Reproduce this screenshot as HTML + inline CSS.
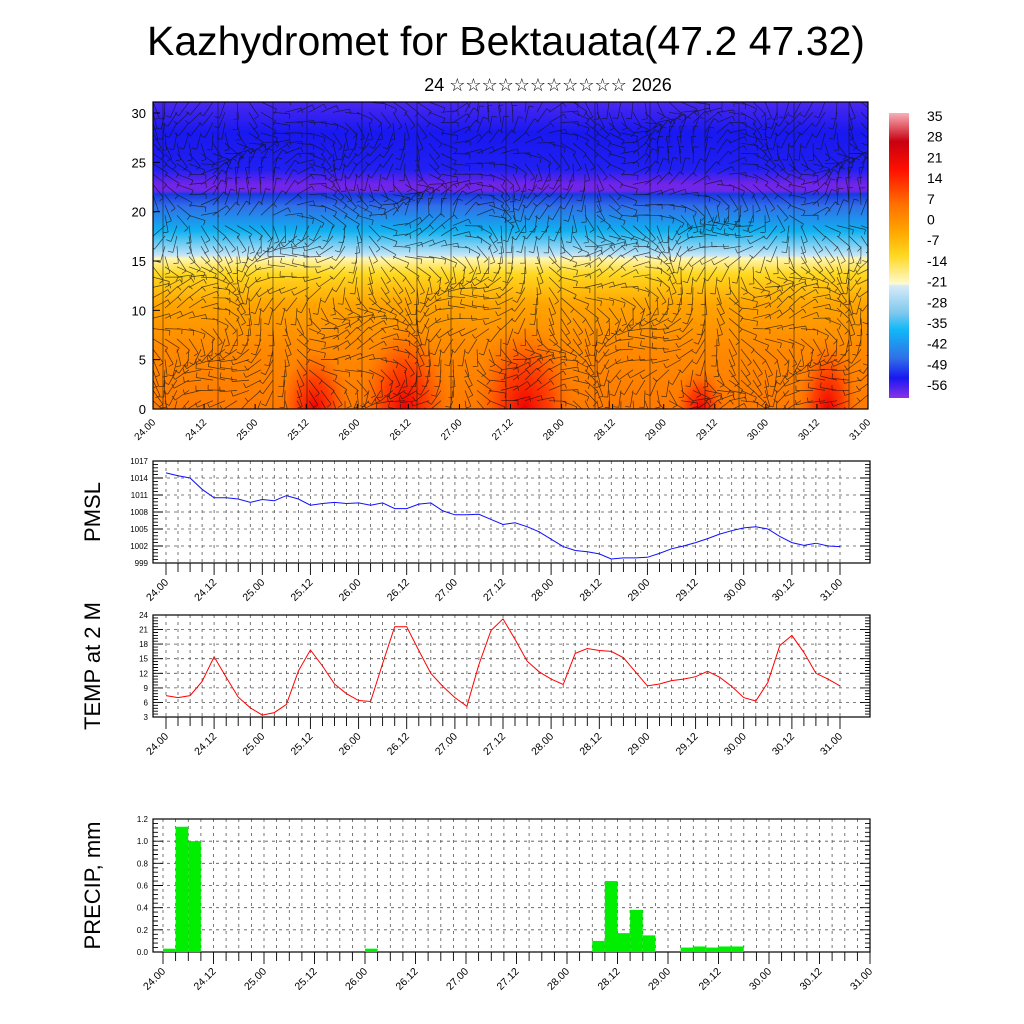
<!DOCTYPE html>
<html><head><meta charset="utf-8"><style>
html,body{margin:0;padding:0;background:#fff;width:1024px;height:1024px;overflow:hidden}
svg{display:block;font-family:"Liberation Sans",sans-serif}
</style></head><body>
<svg id="s" width="1024" height="1024" viewBox="0 0 1024 1024" xmlns="http://www.w3.org/2000/svg">
<defs>
<linearGradient id="vgrad" x1="0" y1="0" x2="0" y2="1">
<stop offset="0" stop-color="#4a28f0"/><stop offset="0.1" stop-color="#1818f0"/><stop offset="0.22" stop-color="#2020f2"/>
<stop offset="0.27" stop-color="#7424e8"/><stop offset="0.29" stop-color="#6a28e8"/><stop offset="0.3" stop-color="#1838e0"/>
<stop offset="0.34" stop-color="#3070e8"/><stop offset="0.42" stop-color="#10b0f0"/><stop offset="0.5" stop-color="#c8e6f6"/>
<stop offset="0.51" stop-color="#fff6b0"/><stop offset="0.56" stop-color="#ffd820"/><stop offset="0.66" stop-color="#ffa400"/>
<stop offset="0.8" stop-color="#ff8a00"/><stop offset="1" stop-color="#ff7a00"/></linearGradient>
<radialGradient id="red"><stop offset="0" stop-color="#f00000" stop-opacity="1"/><stop offset="0.5" stop-color="#ff2800" stop-opacity="0.7"/><stop offset="1" stop-color="#ff6000" stop-opacity="0"/></radialGradient>
<linearGradient id="cbgrad" x1="0" y1="0" x2="0" y2="1">
<stop offset="0" stop-color="#f8b0b8"/><stop offset="0.1" stop-color="#c80010"/><stop offset="0.2" stop-color="#ff1000"/>
<stop offset="0.32" stop-color="#ff7000"/><stop offset="0.42" stop-color="#ffa800"/><stop offset="0.5" stop-color="#ffd820"/>
<stop offset="0.6" stop-color="#fffad0"/><stop offset="0.605" stop-color="#d8ecf8"/><stop offset="0.7" stop-color="#80c8ee"/>
<stop offset="0.76" stop-color="#10b8f8"/><stop offset="0.86" stop-color="#3070e8"/><stop offset="0.93" stop-color="#1818f0"/>
<stop offset="1" stop-color="#8a30e8"/></linearGradient>
<clipPath id="mainclip"><rect x="153" y="102" width="715" height="307"/></clipPath>
</defs>
<text x="506" y="55" font-size="41" text-anchor="middle">Kazhydromet for Bektauata(47.2 47.32)</text>
<text x="548" y="91" font-size="18" text-anchor="middle">24 ☆☆☆☆☆☆☆☆☆☆☆ 2026</text>
<g id="main"></g>
<g id="cb"></g>
<g id="pmsl"></g>
<g id="temp"></g>
<g id="precip"></g>
</svg>
<script>
const NS="http://www.w3.org/2000/svg";
const dayLabels=["24.00","24.12","25.00","25.12","26.00","26.12","27.00","27.12","28.00","28.12","29.00","29.12","30.00","30.12","31.00"];
const pmslValues=[1014.9,1014.4,1014.0,1012.0,1010.5,1010.5,1010.3,1009.7,1010.2,1010.0,1010.9,1010.3,1009.2,1009.5,1009.7,1009.5,1009.6,1009.2,1009.6,1008.6,1008.6,1009.4,1009.6,1008.2,1007.5,1007.5,1007.6,1006.7,1005.8,1006.1,1005.4,1004.5,1003.2,1001.9,1001.2,1001.0,1000.6,999.7,999.9,999.9,1000.0,1000.7,1001.5,1002.0,1002.6,1003.3,1004.1,1004.7,1005.2,1005.4,1005.0,1003.7,1002.6,1002.1,1002.5,1002.0,1001.9];
const pmslTicks=[999,1002,1005,1008,1011,1014,1017];
const tempValues=[7.4,7.0,7.4,10.3,15.4,11.2,7.1,4.9,3.4,3.9,5.6,12.5,16.8,13.5,9.8,7.8,6.4,6.2,14.0,21.6,21.6,16.7,12.0,9.3,7.0,5.2,13.8,20.8,23.2,19.0,14.5,12.3,10.8,9.7,16.1,17.1,16.7,16.5,15.2,12.3,9.4,9.8,10.5,10.8,11.3,12.4,11.2,9.3,7.0,6.3,10.1,17.7,19.8,16.3,12.0,10.8,9.4];
const tempTicks=[3,6,9,12,15,18,21,24];
const precipIndex=[1,2,3,17,35,36,37,38,39,42,43,44,45,46];
const precipValues=[0.03,1.13,1.0,0.03,0.1,0.64,0.17,0.38,0.15,0.04,0.05,0.04,0.05,0.05];
const precipTicks=[0.0,0.2,0.4,0.6,0.8,1.0,1.2];
const heightTicks=[0,5,10,15,20,25,30];
const cbLabels=[35,28,21,14,7,0,-7,-14,-21,-28,-35,-42,-49,-56];

function el(tag,attrs,parent){const e=document.createElementNS(NS,tag);for(const k in attrs)e.setAttribute(k,attrs[k]);parent.appendChild(e);return e;}

const main=document.getElementById('main');
const mx0=153,mx1=868,my0=102,my1=409;
const hy=h=>409-h*(409-113)/30;
const bg=el('rect',{x:mx0,y:my0,width:mx1-mx0,height:my1-my0,fill:'url(#vgrad)'},main);


const blobs=el('g',{'clip-path':'url(#mainclip)'},main);
[[405,409,45,85],[525,409,50,85],[828,409,30,70],[315,409,35,60],[700,409,25,40]].forEach(b=>{
 const e=el('ellipse',{cx:b[0],cy:b[1],rx:b[2],ry:b[3],fill:'url(#red)'},blobs);
 
 
});
const barbs=el('g',{'clip-path':'url(#mainclip)',stroke:'#111','stroke-width':'0.7','stroke-opacity':'0.75',fill:'none'},main);


let d="";
for(let i=0;i<=60;i++){for(let j=0;j<=30;j++){
 const x=mx0+i*12,y=my0+j*10.3;
 const a=Math.sin(i*0.37+j*0.21)*1.2+Math.cos(j*0.5-i*0.13)*0.9+(j<12?0.3:1.3);
 const L=17,dx=Math.cos(a)*L,dy=Math.sin(a)*L;
 d+=`M${x.toFixed(1)} ${y.toFixed(1)}l${dx.toFixed(1)} ${dy.toFixed(1)}`;
 const fx=-Math.sin(a)*5,fy=Math.cos(a)*5;
 d+=`M${(x+dx).toFixed(1)} ${(y+dy).toFixed(1)}l${fx.toFixed(1)} ${fy.toFixed(1)}`;
}}
for(let i=0;i<15;i++){const x=mx0+10+i*48+(i%3)*7;d+=`M${x} ${my0}v${my1-my0}`;}
el('path',{d:d},barbs);
el('rect',{x:mx0,y:my0,width:mx1-mx0,height:my1-my0,fill:'none',stroke:'#000','stroke-width':1.2},main);
heightTicks.forEach(h=>{
 const t=el('text',{x:146,y:hy(h)+5,'font-size':13,'text-anchor':'end'},main);t.textContent=h;
 
 
 el('line',{x1:mx0,x2:mx0+7,y1:hy(h),y2:hy(h),stroke:'#000'},main);
});
dayLabels.forEach((l,i)=>{
 const x=mx0+i*(mx1-mx0)/14;
 el('line',{x1:x,x2:x,y1:my1,y2:my1-5,stroke:'#000'},main);
 const t=el('text',{x:x+3,y:my1+14,'font-size':10,'text-anchor':'end',transform:`rotate(-45 ${x+3} ${my1+14})`},main);t.textContent=l;
 
 
});
const cb=document.getElementById('cb');
el('rect',{x:889,y:113,width:20,height:285,fill:'url(#cbgrad)'},cb);
cbLabels.forEach((v,i)=>{
 const t=el('text',{x:927,y:121+i*20.7,'font-size':14},cb);t.textContent=v;
 
 
});

function panel(gid,top,bot,ticks,title,x0,x1,fmt){
 const g=document.getElementById(gid);
 const L=153,R=870,lo=ticks[0],hi=ticks[ticks.length-1];
 const sy=v=>bot-(v-lo)/(hi-lo)*(bot-top);
 const sx=i=>x0+i*(x1-x0)/56;
 let gd="";
 for(let i=0;i<=56;i++)gd+=`M${sx(i).toFixed(1)} ${top}V${bot}`;
 ticks.forEach(v=>gd+=`M${L} ${sy(v).toFixed(1)}H${R}`);
 el('path',{d:gd,stroke:'#555','stroke-width':0.8,'stroke-dasharray':'3 4',fill:'none'},g);
 let td="";
 const n=ticks.length-1;
 for(let k=0;k<=n*5;k++){const y=top+(bot-top)*k/(n*5);const len=k%5==0?10:5;td+=`M${L} ${y.toFixed(1)}h${len}M${R} ${y.toFixed(1)}h${-len}`;}
 for(let i=0;i<=56;i++)td+=`M${sx(i).toFixed(1)} ${bot}v${i%4==0?12:9}`;
 el('path',{d:td,stroke:'#000','stroke-width':0.9,fill:'none'},g);
 el('rect',{x:L,y:top,width:R-L,height:bot-top,fill:'none',stroke:'#000','stroke-width':1.2},g);
 ticks.forEach(v=>{const t=el('text',{x:L-5,y:sy(v)+3,'font-size':8,'text-anchor':'end'},g);t.textContent=fmt(v);
  
  });
 dayLabels.forEach((l,i)=>{const x=sx(i*4);const t=el('text',{x:x+3,y:bot+20,'font-size':10.5,'text-anchor':'end',transform:`rotate(-45 ${x+3} ${bot+20})`},g);t.textContent=l;
  
  });
 const cy=(top+bot)/2;
 const tt=el('text',{x:100,y:cy,'font-size':22,'text-anchor':'middle',transform:`rotate(-90 100 ${cy})`},g);tt.textContent=title;
 
 
 return {g,sx,sy};
}
const p1=panel('pmsl',461,563,pmslTicks,'PMSL',166,840,v=>v);
const l1=el('polyline',{points:pmslValues.map((v,i)=>p1.sx(i).toFixed(1)+','+p1.sy(v).toFixed(1)).join(' '),fill:'none',stroke:'#1010ff','stroke-width':1},p1.g);


const p2=panel('temp',615,717,tempTicks,'TEMP at 2 M',166,840,v=>v);
const l2=el('polyline',{points:tempValues.map((v,i)=>p2.sx(i).toFixed(1)+','+p2.sy(v).toFixed(1)).join(' '),fill:'none',stroke:'#ff0000','stroke-width':1},p2.g);


const p3=panel('precip',819,952,precipTicks,'PRECIP, mm',163,870,v=>v.toFixed(1));
precipIndex.forEach((idx,k)=>{
 const xa=p3.sx(idx-1),xb=p3.sx(idx),y=p3.sy(precipValues[k]);
 const r=el('rect',{x:xa,y:y,width:xb-xa,height:952-y,fill:'#00ee00'},p3.g);
 
 
});
</script>
</body></html>
